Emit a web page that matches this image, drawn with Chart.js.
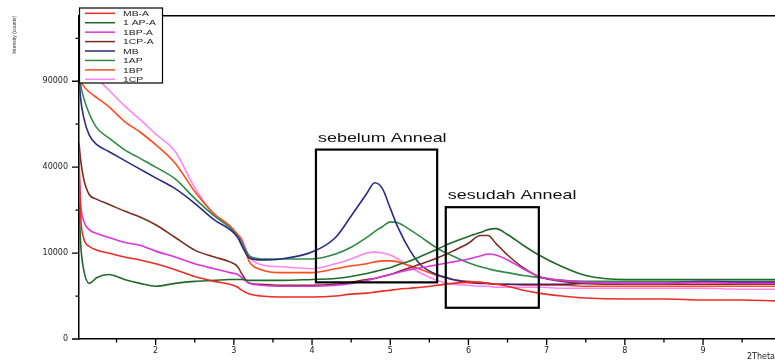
<!DOCTYPE html>
<html>
<head>
<meta charset="utf-8">
<script src="https://cdn.jsdelivr.net/npm/chart.js@4.4.0/dist/chart.umd.min.js"></script>
<style>
  html, body { margin: 0; padding: 0; background: #fff; }
  #wrap { width: 775px; height: 362px; position: relative; }
</style>
</head>
<body>
<div id="wrap"><canvas id="xrdChart"></canvas></div>
<script>
// 2Theta positions shared by every scan
const twoTheta = [1.02, 1.04, 1.08, 1.15, 1.25, 1.4, 1.6, 1.8, 2.0, 2.25, 2.5, 2.75, 2.95, 3.05, 3.1, 3.2, 3.35, 3.6, 4.0, 4.3, 4.5, 4.7, 4.8, 4.9, 5.0, 5.1, 5.25, 5.4, 5.6, 5.8, 6.0, 6.15, 6.25, 6.35, 6.5, 6.7, 6.9, 7.2, 7.5, 8.0, 8.5, 9.0, 9.5, 9.92];

// intensities (counts), after anneal
const mbA  = [46127, 21489, 13700, 11654, 10693, 10000, 9112, 8472, 7656, 6510, 5289, 4495, 4050, 3627, 3228, 2732, 2500, 2388, 2388, 2500, 2732, 2853, 2975, 3100, 3228, 3359, 3492, 3627, 3906, 4196, 4344, 4344, 4196, 4050, 3766, 3228, 2853, 2500, 2278, 2171, 2171, 2066, 2066, 1964];
const apA  = [24950, 12656, 6510, 4196, 5125, 5625, 4805, 4196, 3766, 4196, 4495, 4649, 4805, 4805, 4805, 4649, 4649, 4649, 4805, 4964, 5289, 5797, 6148, 6510, 6881, 7459, 8264, 9330, 10930, 12656, 14237, 15342, 16198, 16489, 14784, 11901, 9551, 7071, 5456, 4805, 4805, 4805, 4805, 4805];
const bpA  = [39096, 24950, 18906, 16198, 15062, 13967, 12656, 11901, 10460, 9112, 7656, 6694, 5971, 5625, 5125, 4196, 3906, 3766, 3766, 3906, 4196, 4649, 4964, 5289, 5625, 5971, 6510, 6881, 7459, 8059, 8683, 9330, 9774, 9551, 8472, 6694, 5289, 4649, 4344, 4196, 4196, 4344, 4196, 4196];
const cpA  = [52170, 43719, 34731, 28285, 26406, 24592, 22160, 20177, 17677, 13967, 10693, 9112, 8059, 7071, 5797, 4196, 4050, 3906, 3906, 4050, 4344, 4805, 4964, 5289, 5625, 6148, 6881, 7656, 8896, 10460, 12402, 14509, 14509, 12402, 9551, 6881, 5289, 4495, 4196, 4050, 4050, 4050, 4050, 4050];
// intensities (counts), before anneal
const mb   = [93441, 78782, 66540, 56406, 51137, 47603, 43245, 39096, 35156, 30625, 24950, 19220, 16198, 13967, 11901, 8896, 8472, 8683, 10229, 13967, 20501, 28669, 33058, 30625, 23187, 16782, 10693, 7264, 5625, 4805, 4344, 4196, 4196, 4050, 4050, 4050, 4050, 4050, 4196, 4196, 4196, 4495, 4344, 4344];
const ap   = [99081, 87966, 78782, 68906, 60248, 54798, 48600, 44195, 40000, 34731, 26777, 20501, 16782, 14237, 12656, 9330, 8683, 8683, 8683, 9774, 11410, 13967, 15625, 17078, 18595, 18287, 16198, 13967, 11169, 9330, 7856, 7071, 6694, 6327, 5971, 5456, 5125, 4649, 4495, 4495, 4495, 4495, 4495, 4495];
const bp   = [96241, 90683, 86623, 82656, 78782, 73145, 64216, 58037, 51137, 41839, 29443, 21157, 17376, 14784, 13173, 8059, 6510, 5971, 5971, 6694, 7264, 7656, 8059, 8264, 8264, 8059, 7264, 6510, 5456, 4805, 4495, 4344, 4196, 4050, 4050, 3906, 3906, 3906, 3766, 3766, 3766, 3766, 3766, 3766];
const cp   = [111616, 106364, 101963, 96947, 92057, 83968, 73761, 65373, 56947, 47603, 31024, 20828, 17078, 14784, 13700, 9112, 7459, 7071, 6694, 7656, 8683, 10000, 10229, 10000, 9551, 8683, 7071, 5797, 4649, 4050, 3906, 3766, 3766, 3627, 3627, 3627, 3627, 3492, 3492, 3492, 3492, 3492, 3359, 3359];

const seriesLabels = ['MB-A', '1 AP-A', '1BP-A', '1CP-A', 'MB', '1AP', '1BP', '1CP'];
const seriesData = [mbA, apA, bpA, cpA, mb, ap, bp, cp];
const seriesColors = ['#ee2b24', '#1f6a2a', '#dd33dd', '#7b2c22', '#2b2a85', '#2f8a45', '#ff4d1f', '#ff85f2'];

const yTicks = [0, 10000, 40000, 90000];
const yMinor = [2500, 22500, 62500, 122500];
const xTicks = [2, 3, 4, 5, 6, 7, 8, 9];
const xMinor = [1.5, 2.5, 3.5, 4.5, 5.5, 6.5, 7.5, 8.5, 9.5];

// highlighted regions (data units)
const regions = [
    { text: 'sebelum Anneal', x0: 4.05, x1: 5.6, y0: 4344, y1: 48600 },
    { text: 'sesudah Anneal', x0: 5.71, x1: 6.9, y0: 1322, y1: 23535 }
];

// square-root intensity axis
class SqrtScale extends Chart.LinearScale {
    getPixelForValue(value) {
        const lo = Math.sqrt(this.min), hi = Math.sqrt(this.max);
        return this.getPixelForDecimal((Math.sqrt(Math.max(value, 0)) - lo) / (hi - lo));
    }
    getValueForPixel(pixel) {
        const lo = Math.sqrt(this.min), hi = Math.sqrt(this.max);
        const s = lo + this.getDecimalForPixel(pixel) * (hi - lo);
        return s * s;
    }
}
SqrtScale.id = 'sqrt';
SqrtScale.defaults = Chart.LinearScale.defaults;
Chart.register(SqrtScale);

function stretchedText(ctx, text, x, y, sx) {
    ctx.save();
    ctx.translate(x, y);
    ctx.scale(sx, 1);
    ctx.fillText(text, 0, 0);
    ctx.restore();
}

const extrasPlugin = {
    id: 'extras',
    afterDraw(chart) {
        const { ctx, chartArea: a, scales: { x, y } } = chart;
        ctx.save();
        ctx.strokeStyle = '#000';

        // top frame
        ctx.lineWidth = 1.5;
        ctx.beginPath();
        ctx.moveTo(a.left, a.top);
        ctx.lineTo(a.right, a.top);
        ctx.stroke();

        // tick marks
        ctx.lineWidth = 1.3;
        ctx.beginPath();
        yTicks.forEach(v => { const p = y.getPixelForValue(v); ctx.moveTo(a.left - 7, p); ctx.lineTo(a.left, p); });
        yMinor.forEach(v => { const p = y.getPixelForValue(v); ctx.moveTo(a.left - 3.5, p); ctx.lineTo(a.left, p); });
        xTicks.forEach(v => { const p = x.getPixelForValue(v); ctx.moveTo(p, a.bottom); ctx.lineTo(p, a.bottom + 6); });
        xMinor.forEach(v => { const p = x.getPixelForValue(v); ctx.moveTo(p, a.bottom); ctx.lineTo(p, a.bottom + 3.5); });
        ctx.stroke();

        // region boxes
        ctx.lineWidth = 2.2;
        ctx.fillStyle = '#111';
        ctx.font = '13px "Liberation Sans", Arial, sans-serif';
        ctx.textBaseline = 'alphabetic';
        regions.forEach(r => {
            const left = x.getPixelForValue(r.x0), right = x.getPixelForValue(r.x1);
            const top = y.getPixelForValue(r.y1), bottom = y.getPixelForValue(r.y0);
            ctx.strokeRect(left, top, right - left, bottom - top);
            stretchedText(ctx, r.text, left + 2, top - 8, 1.38);
        });

        // legend
        const lx = 79.5, ly = 8, lw = 83, lh = 75;
        ctx.fillStyle = '#fff';
        ctx.fillRect(lx, ly, lw, lh);
        ctx.lineWidth = 1.2;
        ctx.strokeRect(lx, ly, lw, lh);
        ctx.font = '8px "Liberation Sans", Arial, sans-serif';
        ctx.textBaseline = 'middle';
        seriesLabels.forEach((lab, i) => {
            const cy = 13.3 + i * 9.43;
            ctx.strokeStyle = seriesColors[i];
            ctx.lineWidth = 1.5;
            ctx.beginPath();
            ctx.moveTo(85, cy);
            ctx.lineTo(115, cy);
            ctx.stroke();
            ctx.fillStyle = '#222';
            stretchedText(ctx, lab, 123, cy + 0.5, 1.3);
        });
        ctx.restore();
    }
};

const tickFont = { family: 'DejaVu Sans', size: 8 };

new Chart(document.getElementById('xrdChart'), {
    type: 'line',
    data: {
        datasets: seriesLabels.map((lab, i) => ({
            label: lab,
            data: twoTheta.map((t, j) => ({ x: t, y: seriesData[i][j] })),
            borderColor: seriesColors[i],
            borderWidth: 1.6,
            pointRadius: 0,
            fill: false,
            cubicInterpolationMode: 'monotone'
        }))
    },
    options: {
        responsive: true,
        maintainAspectRatio: false,
        animation: false,
        layout: { padding: { top: 8, right: 0, left: 0, bottom: 0 } },
        plugins: {
            legend: { display: false },
            tooltip: { enabled: false }
        },
        scales: {
            x: {
                type: 'linear',
                min: 1.02,
                max: 9.92,
                afterBuildTicks: s => { s.ticks = xTicks.map(v => ({ value: v })); },
                afterFit: s => { s.height = 23; },
                grid: { display: false, drawTicks: false },
                border: { display: true, color: '#000', width: 1.5 },
                ticks: { padding: 7, color: '#222', font: tickFont, autoSkip: false, maxRotation: 0, callback: v => String(v) },
                title: { display: true, text: '2Theta', align: 'end', color: '#222', font: tickFont, padding: { top: 0, bottom: 0 } }
            },
            y: {
                type: 'sqrt',
                min: 0,
                max: 141500,
                afterBuildTicks: s => { s.ticks = yTicks.map(v => ({ value: v })); },
                afterFit: s => { s.width = 79; },
                grid: { display: false, drawTicks: false },
                border: { display: true, color: '#000', width: 1.5 },
                ticks: { padding: 11, color: '#222', font: tickFont, callback: v => String(v) },
                title: { display: true, text: 'Intensity (counts)', align: 'end', color: '#333', font: { family: 'Liberation Sans', size: 5 }, padding: { top: 12, bottom: 0 } }
            }
        }
    },
    plugins: [extrasPlugin]
});
</script>
</body>
</html>
